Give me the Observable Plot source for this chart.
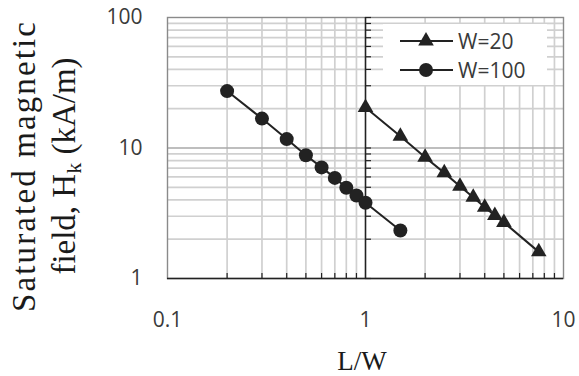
<!DOCTYPE html>
<html><head><meta charset="utf-8">
<script src="https://cdn.jsdelivr.net/npm/d3@7"></script>
<script src="https://cdn.jsdelivr.net/npm/@observablehq/plot@0.6"></script>
<style>
body{margin:0;background:#fff;}
#wrap{position:relative;width:579px;height:376px;overflow:hidden;}
#wrap svg.ov{position:absolute;left:0;top:0;pointer-events:none;}
.serif{font-family:"Liberation Serif","Times New Roman",serif;}
</style>
</head><body>
<div id="wrap"></div>
<script>
// Data
const seriesNames = ["W=20", "W=100"];
const lw20 = [1, 1.5, 2, 2.5, 3, 3.5, 4, 4.5, 5, 7.5];
const hk20 = [20.4, 12.3, 8.5, 6.45, 5.1, 4.2, 3.52, 3.04, 2.69, 1.6];
const lw100 = [0.2, 0.3, 0.4, 0.5, 0.6, 0.7, 0.8, 0.9, 1.0, 1.5];
const hk100 = [27.3, 16.8, 11.7, 8.8, 7.1, 5.9, 4.96, 4.33, 3.81, 2.33];
const xTicks = [0.1, 1, 10];
const xTickLabels = ["0.1", "1", "10"];
const yTicks = [1, 10, 100];
const yTickLabels = ["1", "10", "100"];
const xMinor = [0.2, 0.3, 0.4, 0.5, 0.6, 0.7, 0.8, 0.9, 2, 3, 4, 5, 6, 7, 8, 9];
const yMinor = [2, 3, 4, 5, 6, 7, 8, 9, 20, 30, 40, 50, 60, 70, 80, 90];
const xTitle = "L/W";
const yTitle1 = "Saturated magnetic";
const yTitle2a = "field, H", yTitle2sub = "k", yTitle2b = " (kA/m)";

const w20 = lw20.map((x, i) => ({x, y: hk20[i]}));
const w100 = lw100.map((x, i) => ({x, y: hk100[i]}));

const ink = "#222";
const plot = Plot.plot({
  width: 579, height: 376,
  marginLeft: 167, marginRight: 16, marginTop: 17, marginBottom: 98,
  style: {fontFamily: "'Open Sans', sans-serif", fontSize: "21px", background: "#fff"},
  x: {type: "log", domain: [0.1, 10]},
  y: {type: "log", domain: [1, 100]},
  marks: [
    Plot.ruleX(xMinor, {stroke: "#d0d0d0", strokeWidth: 1.7}),
    Plot.ruleY(yMinor, {stroke: "#d0d0d0", strokeWidth: 1.7}),
    Plot.ruleY([10], {stroke: "#a8a8a8", strokeWidth: 1.7}),
    Plot.frame({stroke: "#8a8a8a", strokeWidth: 1.4}),
    Plot.ruleX(xMinor, {stroke: ink, strokeWidth: 1.2, insetTop: 256}),
    Plot.ruleY(yMinor.concat(yTicks), {stroke: ink, strokeWidth: 1.2, insetLeft: 198, insetRight: 192}),
    Plot.ruleY([1], {stroke: ink, strokeWidth: 1.6}),
    Plot.ruleX([1], {stroke: ink, strokeWidth: 1.6}),
    Plot.axisX(xTicks, {tickSize: 0, tickPadding: 34, tickFormat: (d) => xTickLabels[xTicks.indexOf(d)], color: "#3a3a3a", label: null}),
    Plot.axisY(yTicks, {tickSize: 0, tickPadding: 25, tickFormat: (d) => yTickLabels[yTicks.indexOf(d)], color: "#3a3a3a", label: null}),
    Plot.line(w100, {x: "x", y: "y", stroke: ink, strokeWidth: 2}),
    Plot.line(w20, {x: "x", y: "y", stroke: ink, strokeWidth: 2}),
    Plot.dot(w100, {x: "x", y: "y", r: 7, fill: ink, stroke: null, symbol: "circle"}),
    Plot.dot(w20, {x: "x", y: "y", r: 5.8, fill: ink, stroke: null, symbol: "triangle"})
  ]
});
const wrap = document.getElementById("wrap");
wrap.appendChild(plot);

// Overlay: titles and legend
const ov = d3.select(wrap).append("svg").attr("class", "ov").attr("width", 579).attr("height", 376);
ov.append("text").attr("class", "serif").attr("transform", "translate(35,167) rotate(-90)")
  .attr("text-anchor", "middle").attr("font-size", 33).attr("fill", "#1a1a1a")
  .attr("textLength", 290).attr("lengthAdjust", "spacing").text(yTitle1);
const t2 = ov.append("text").attr("class", "serif").attr("transform", "translate(75,166) rotate(-90)")
  .attr("text-anchor", "middle").attr("font-size", 33).attr("fill", "#1a1a1a");
t2.append("tspan").text(yTitle2a);
t2.append("tspan").attr("font-size", 22).attr("dy", 6).text(yTitle2sub);
t2.append("tspan").attr("dy", -6).text(yTitle2b);
ov.append("text").attr("class", "serif").attr("x", 362).attr("y", 370).attr("text-anchor", "middle")
  .attr("font-size", 27).attr("fill", "#1a1a1a").text(xTitle);

// Legend
const lg = ov.append("g");
lg.append("rect").attr("x", 383).attr("y", 24).attr("width", 164).attr("height", 61).attr("fill", "#fff");
const items = [{name: seriesNames[0], sym: d3.symbolTriangle, size: Math.PI * 5.8 * 5.8, y: 41},
               {name: seriesNames[1], sym: d3.symbolCircle, size: Math.PI * 7 * 7, y: 70}];
items.forEach(it => {
  lg.append("line").attr("x1", 400).attr("x2", 453).attr("y1", it.y).attr("y2", it.y).attr("stroke", ink).attr("stroke-width", 2);
  lg.append("path").attr("d", d3.symbol(it.sym, it.size)()).attr("transform", `translate(426,${it.y})`).attr("fill", ink);
  lg.append("text").attr("x", 458).attr("y", it.y).attr("dy", "0.36em").attr("font-family", "'Open Sans', sans-serif")
    .attr("font-size", 21).attr("fill", "#3a3a3a").text(it.name);
});
</script>
</body></html>
